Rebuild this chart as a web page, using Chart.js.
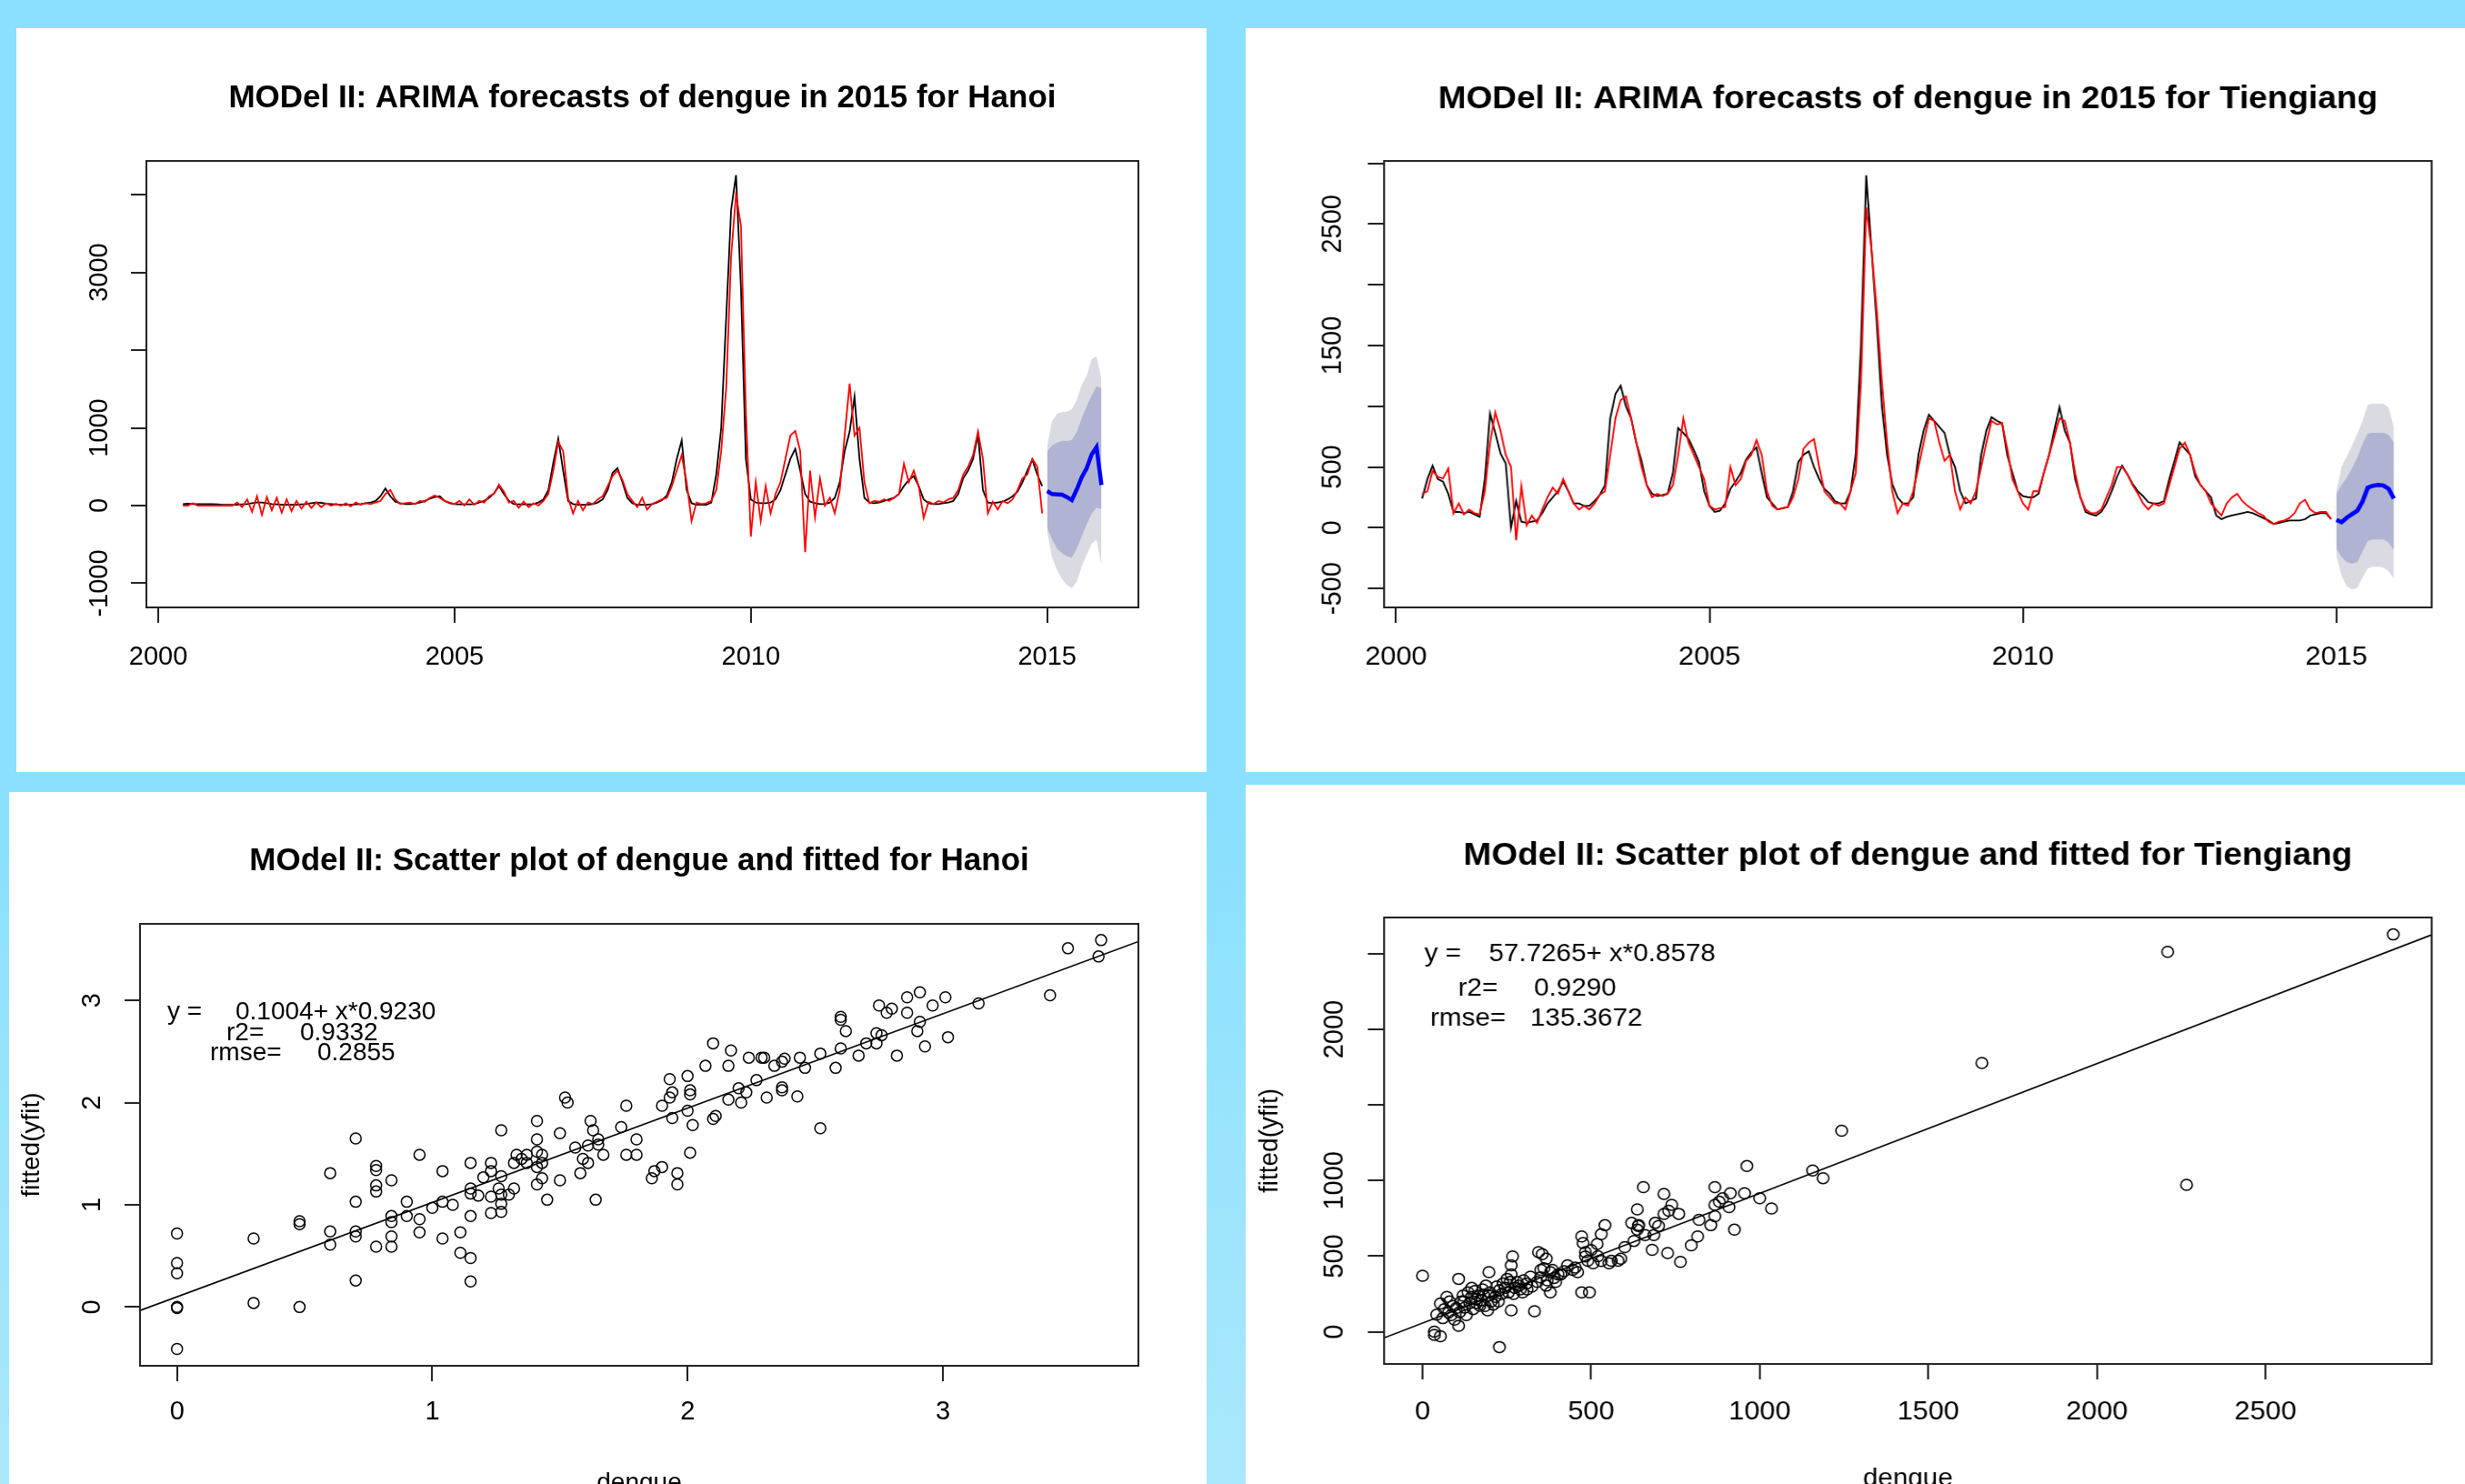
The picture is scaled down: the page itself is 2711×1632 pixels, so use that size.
<!DOCTYPE html>
<html>
<head>
<meta charset="utf-8">
<title>MOdel II: dengue forecasts</title>
<script src="https://cdn.jsdelivr.net/npm/chart.js@4.4.1/dist/chart.umd.min.js"></script>
<style>
  html, body { margin: 0; padding: 0; overflow: hidden; }
  body {
    width: 2711px; height: 1632px; position: relative;
    background: linear-gradient(to bottom, #8ae0fe 0%, #8ae0fe 55%, #aae8fc 100%);
  }
  .panel { position: absolute; background: #fff; overflow: hidden; }
  .panel canvas { display: block; transform-origin: 0 0; }
</style>
</head>
<body>
<div class="panel" style="left:18px;top:31px;width:1309px;height:818px"><canvas id="hanoiTs"></canvas></div>
<div class="panel" style="left:1370px;top:31px;width:1341px;height:818px"><canvas id="tienTs"></canvas></div>
<div class="panel" style="left:10px;top:871px;width:1317px;height:761px"><canvas id="hanoiScatter"></canvas></div>
<div class="panel" style="left:1370px;top:863px;width:1341px;height:769px"><canvas id="tienScatter"></canvas></div>
<script>
const FONT = '"Liberation Sans", Arial, sans-serif';

// monthly series start in June 2000, forecasts cover 2015
const seriesStart = 2000 + 5 / 12;
const forecastStart = 2015;

// ---- Hanoi, observed dengue (black) and fitted (red) ----
const hanoiObserved = [
  20, 25, 20, 20, 20, 20, 20,                                   // 2000 Jun-Dec
  15, 10, 10, 10, 10, 15, 20, 30, 40, 40, 30, 20,               // 2001
  15, 10, 10, 10, 10, 15, 20, 30, 40, 35, 25, 20,               // 2002
  15, 10, 10, 10, 15, 20, 30, 40, 60, 120, 220, 120,            // 2003
  50, 30, 20, 20, 25, 40, 60, 90, 110, 120, 60, 30,             // 2004
  20, 15, 15, 15, 20, 40, 60, 100, 160, 250, 150, 60,           // 2005
  20, 15, 15, 15, 20, 40, 80, 200, 550, 860, 450, 60,           // 2006
  20, 10, 10, 10, 20, 40, 80, 200, 420, 480, 300, 100,          // 2007
  30, 10, 10, 10, 20, 40, 70, 130, 300, 600, 840, 200,          // 2008
  30, 10, 10, 10, 40, 400, 1000, 2400, 3800, 4250, 2800, 600,   // 2009
  80, 40, 30, 30, 40, 80, 200, 400, 600, 730, 450, 150,         // 2010
  50, 30, 20, 20, 40, 100, 300, 700, 950, 1400, 600, 100,       // 2011
  40, 30, 40, 60, 80, 100, 150, 250, 330, 380, 250, 80,         // 2012
  30, 20, 20, 30, 40, 60, 150, 350, 450, 600, 910, 200,         // 2013
  40, 30, 40, 50, 80, 120, 180, 300, 450, 590, 400, 250         // 2014
];
const hanoiFitted = [
  0, 0, 30, 0, 0, 0, 0,
  0, 0, 0, 0, 40, -20, 80, -80, 120, -120, 110, -60,
  100, -90, 80, -70, 60, -40, 50, -30, 40, -20, 30, 0,
  20, 0, 30, -10, 40, 10, 30, 20, 40, 60, 150, 200,
  80, 20, 30, 40, 20, 60, 50, 100, 130, 100, 60, 40,
  20, 60, 0, 80, 10, 60, 40, 120, 150, 270, 180, 40,
  60, -30, 50, -20, 30, 0, 60, 150, 450, 820, 700, 100,
  -100, 60, -60, 40, 20, 80, 120, 250, 380, 450, 330, 150,
  60, -20, 100, -50, 20, 50, 80, 100, 250, 450, 650, 300,
  -200, 40, 20, 30, 60, 200, 700, 1500, 3200, 4000, 3600, 1200,
  -400, 300, -200, 250, -100, 150, 300, 600, 900, 960, 700, -600,
  450, -150, 350, 0, 100, -100, 200, 900, 1570, 900, 1000, 300,
  30, 60, 50, 80, 60, 100, 150, 538, 300, 450, 250, -160,
  50, 20, 60, 40, 80, 100, 200, 400, 500, 650, 950, 600,
  -100, 50, -50, 60, 30, 80, 200, 350, 400, 600, 500, -100
];
// Hanoi 2015 forecast, Jan-Dec
const hanoiForecast = [187, 148, 144, 140, 109, 70, 207, 363, 480, 655, 752, 265];
const hanoiHi95 = [760, 1084, 1180, 1201, 1209, 1240, 1357, 1552, 1669, 1883, 1922, 1629];
const hanoiHi80 = [694, 772, 811, 830, 830, 842, 947, 1123, 1279, 1415, 1532, 1513];
const hanoiLo80 = [-281, -437, -554, -612, -651, -670, -554, -398, -242, -105, -27, -47];
const hanoiLo95 = [-330, -670, -827, -944, -1021, -1061, -982, -787, -632, -495, -437, -768];

// ---- Tiengiang, observed dengue (black) and fitted (red) ----
const tienObserved = [
  240, 400, 510, 400, 380, 280, 130,
  130, 120, 130, 110, 90, 400, 940, 780, 611, 529, 0, 220,
  50, 40, 50, 60, 120, 200, 250, 300, 380, 300, 200, 200,
  180, 180, 220, 270, 350, 900, 1100, 1170, 1000, 900, 700, 550,
  350, 280, 260, 270, 280, 450, 820, 780, 730, 640, 540, 300,
  180, 130, 140, 200, 320, 380, 450, 560, 620, 660, 450, 250,
  200, 150, 160, 170, 300, 540, 600, 630, 500, 400, 320, 280,
  220, 200, 200, 300, 600, 1500, 2900, 2300, 1700, 1000, 600, 360,
  250, 200, 200, 250, 600, 800, 930, 880, 830, 780, 600, 500,
  300, 200, 220, 240, 600, 800, 910, 880, 860, 600, 450, 300,
  260, 250, 250, 280, 450, 600, 800, 992, 800, 700, 400, 250,
  130, 110, 100, 130, 200, 300, 420, 510, 440, 360, 300, 260,
  210, 200, 200, 220, 400, 550, 702, 650, 600, 420, 350, 300,
  250, 100, 70, 90, 100, 110, 120, 130, 120, 100, 80, 60,
  30, 40, 50, 60, 60, 60, 70, 100, 110, 120, 120, 70
];
const tienFitted = [
  280, 300, 467, 420, 405, 488, 116,
  200, 110, 150, 120, 110, 300, 700, 950, 800, 600, 500, -103,
  343, 20, 100, 40, 150, 250, 330, 280, 400, 300, 200, 150,
  180, 150, 200, 270, 300, 600, 900, 1050, 1080, 900, 700, 500,
  350, 250, 280, 260, 280, 350, 600, 900, 700, 600, 500, 400,
  180, 150, 160, 170, 500, 350, 400, 550, 600, 720, 600, 300,
  180, 150, 160, 170, 250, 400, 650, 700, 730, 500, 300, 250,
  200, 200, 150, 300, 450, 1200, 2636, 2300, 1800, 1200, 700, 300,
  120, 200, 180, 300, 500, 700, 900, 880, 700, 550, 600, 300,
  150, 250, 200, 300, 500, 700, 880, 850, 860, 650, 400, 300,
  200, 150, 300, 300, 450, 600, 750, 900, 880, 700, 450, 250,
  150, 120, 120, 150, 250, 350, 500, 500, 440, 350, 280, 200,
  150, 200, 180, 200, 350, 500, 650, 700, 600, 450, 350, 300,
  200, 150, 100, 200, 250, 280, 220, 180, 150, 120, 100, 50,
  30, 50, 60, 80, 120, 200, 230, 150, 120, 130, 130, 70
];
const tienForecast = [65, 45, 83, 112, 140, 215, 330, 345, 352, 348, 320, 240];
const tienHi95 = [302, 502, 589, 677, 776, 876, 1013, 1020, 1020, 1020, 988, 826];
const tienHi80 = [278, 352, 415, 490, 577, 689, 776, 781, 781, 781, 764, 701];
const tienLo80 = [-171, -241, -284, -296, -284, -196, -109, -97, -97, -97, -122, -184];
const tienLo95 = [-234, -396, -483, -508, -496, -409, -334, -321, -321, -326, -359, -421];

// ---- scatter: observed dengue vs fitted ----
const hanoiDengue = [
  0, 0, 0, 0, 0, 0, 0.30, 0.30, 0.48, 0.48,
  0.48, 0.60, 0.60, 0.60, 0.70, 0.70, 0.70, 0.70, 0.70, 0.78,
  0.78, 0.78, 0.78, 0.78, 0.84, 0.84, 0.84, 0.84, 0.84, 0.90,
  0.90, 0.95, 0.95, 0.95, 1.00, 1.04, 1.04, 1.04, 1.08, 1.11,
  1.11, 1.15, 1.15, 1.15, 1.15, 1.15, 1.15, 1.18, 1.20, 1.23,
  1.23, 1.23, 1.23, 1.26, 1.27, 1.27, 1.27, 1.27, 1.27, 1.30,
  1.32, 1.32, 1.33, 1.35, 1.37, 1.37, 1.41, 1.41, 1.41, 1.41,
  1.41, 1.43, 1.43, 1.43, 1.45, 1.50, 1.50, 1.52, 1.53, 1.56,
  1.58, 1.59, 1.61, 1.62, 1.61, 1.63, 1.64, 1.65, 1.65, 1.67,
  1.74, 1.76, 1.76, 1.80, 1.80, 1.86, 1.87, 1.90, 1.90, 1.93,
  1.93, 1.94, 1.94, 1.96, 1.96, 2.00, 2.00, 2.01, 2.01, 2.02,
  2.01, 2.07, 2.10, 2.10, 2.11, 2.16, 2.16, 2.17, 2.20, 2.21,
  2.23, 2.24, 2.27, 2.29, 2.30, 2.31, 2.34, 2.37, 2.37, 2.37,
  2.38, 2.43, 2.44, 2.46, 2.52, 2.52, 2.58, 2.60, 2.60, 2.60,
  2.62, 2.67, 2.70, 2.74, 2.74, 2.75, 2.76, 2.78, 2.80, 2.82,
  2.86, 2.86, 2.90, 2.91, 2.93, 2.91, 2.96, 3.01, 3.02, 3.14,
  3.42, 3.49, 3.61, 3.62
];
const hanoiFittedScatter = [
  0.72, 0.43, 0.33, 0.00, -0.01, -0.41, 0.67, 0.04, 0.84, 0.81,
  0.00, 1.31, 0.74, 0.61, 1.65, 1.03, 0.74, 0.69, 0.26, 1.38,
  1.34, 1.19, 1.13, 0.59, 1.24, 0.89, 0.83, 0.69, 0.59, 1.03,
  0.89, 1.49, 0.86, 0.73, 0.97, 1.33, 1.03, 0.67, 1.00, 0.73,
  0.53, 0.48, 0.25, 1.41, 1.16, 1.11, 0.89, 1.09, 1.27, 1.41,
  1.33, 1.08, 0.92, 1.16, 1.73, 1.28, 1.10, 1.01, 0.93, 1.10,
  1.41, 1.16, 1.49, 1.45, 1.49, 1.41, 1.52, 1.37, 1.20, 1.82,
  1.64, 1.49, 1.41, 1.26, 1.05, 1.70, 1.24, 2.05, 2.00, 1.56,
  1.31, 1.45, 1.58, 1.82, 1.41, 1.73, 1.05, 1.64, 1.59, 1.49,
  1.76, 1.49, 1.97, 1.64, 1.49, 1.26, 1.33, 1.97, 1.37, 2.05,
  2.23, 2.10, 1.85, 1.31, 1.20, 1.92, 2.26, 2.12, 2.08, 1.78,
  1.51, 2.36, 2.58, 1.84, 1.87, 2.36, 2.03, 2.51, 2.14, 2.00,
  2.10, 2.44, 2.22, 2.44, 2.44, 2.05, 2.36, 2.40, 2.15, 2.12,
  2.43, 2.06, 2.44, 2.34, 1.75, 2.48, 2.34, 2.53, 2.84, 2.81,
  2.70, 2.46, 2.58, 2.68, 2.58, 2.95, 2.66, 2.88, 2.92, 2.46,
  3.03, 2.88, 2.70, 2.79, 2.55, 3.08, 2.95, 3.03, 2.64, 2.97,
  3.05, 3.51, 3.43, 3.59
];
const tienDengue = [
  0, 228, 107, 35, 35, 53, 42, 53, 72, 77,
  100, 107, 123, 135, 146, 158, 170, 181, 193, 188,
  204, 216, 228, 239, 251, 263, 197, 263, 267, 274,
  286, 297, 332, 263, 309, 320, 344, 355, 367, 351,
  379, 390, 402, 379, 367, 460, 472, 495, 472, 476,
  483, 483, 518, 530, 541, 506, 530, 553, 588, 453,
  637, 641, 655, 627, 637, 681, 686, 727, 765, 716,
  716, 739, 797, 816, 855, 867, 867, 890, 867, 925,
  909, 913, 955, 962, 1000, 1035, 1157, 1188, 1243, 1659,
  2210, 2266, 2879,
  60, 65, 80, 85, 90, 95, 110, 115, 120, 125,
  130, 140, 145, 150, 155, 160, 165, 175, 178, 185,
  195, 200, 210, 220, 225, 235, 245, 255, 260, 270,
  280, 290, 300, 310, 325, 340, 350, 360, 370, 385,
  395, 410, 420, 430, 445, 490, 500, 520, 560, 580,
  600, 620, 640, 660, 690, 700, 730, 760, 820, 880
];
const tienFittedScatter = [
  370, -101, 350, 0, -21, -30, 113, 187, 231, 127,
  157, 39, 201, 261, 290, 216, 172, 246, 142, 305,
  201, 231, 276, 320, 350, 379, 394, 439, 498, 290,
  305, 261, 136, 142, 320, 364, 527, 513, 483, 409,
  394, 356, 379, 261, 305, 394, 261, 261, 631, 587,
  527, 498, 581, 646, 705, 453, 468, 453, 483, 424,
  809, 705, 957, 601, 675, 542, 640, 521, 462, 912,
  779, 839, 572, 631, 705, 839, 764, 883, 957, 675,
  824, 916, 916, 1096, 883, 815, 1067, 1016, 1330, 1778,
  2513, 972, 2628,
  90, 150, 200, 110, 170, 80, 130, 200, 240, 160,
  110, 190, 230, 150, 270, 190, 240, 210, 280, 170,
  240, 260, 180, 300, 200, 250, 290, 260, 330, 250,
  330, 280, 340, 280, 300, 330, 360, 420, 340, 410,
  330, 380, 400, 440, 410, 470, 540, 500, 470, 470,
  560, 720, 700, 640, 720, 700, 800, 780, 740, 860
];

// regression text shown on the scatter plots
const hanoiFit = { a: 0.1004, b: 0.9230 };
const hanoiFitNames = ['y =', 'r2=', 'rmse='];
const hanoiFitValues = ['0.1004+ x*0.9230', '0.9332', '0.2855'];
const tienFit = { a: 57.7265, b: 0.8578 };
const tienFitNames = ['y =', 'r2=', 'rmse='];
const tienFitValues = ['57.7265+ x*0.8578', '0.9290', '135.3672'];

// axis ticks and labels (R hides labels that would overlap)
const yearTicks = [2000, 2005, 2010, 2015];
const yearLabels = ['2000', '2005', '2010', '2015'];
const hanoiTsYTicks = [-1000, 0, 1000, 2000, 3000, 4000];
const hanoiTsYLabels = ['-1000', '0', '1000', '', '3000', ''];
const tienTsYTicks = [-500, 0, 500, 1000, 1500, 2000, 2500, 3000];
const tienTsYLabels = ['-500', '0', '500', '', '1500', '', '2500', ''];
const hanoiScXTicks = [0, 1, 2, 3];
const hanoiScXLabels = ['0', '1', '2', '3'];
const hanoiScYTicks = [0, 1, 2, 3];
const hanoiScYLabels = ['0', '1', '2', '3'];
const tienScXTicks = [0, 500, 1000, 1500, 2000, 2500];
const tienScXLabels = ['0', '500', '1000', '1500', '2000', '2500'];
const tienScYTicks = [0, 500, 1000, 1500, 2000, 2500];
const tienScYLabels = ['0', '500', '1000', '', '2000', ''];

const LIGHT_BAND = '#dadae2';
const DARK_BAND = '#b0b4d2';

function monthly(start, values) {
  return values.map((v, i) => ({ x: start + i / 12, y: v }));
}
function pairs(xs, ys) {
  return xs.map((x, i) => ({ x: x, y: ys[i] }));
}

// box around plot, centred bold title and regression notes
const rDecor = {
  id: 'rDecor',
  afterDraw(chart, args, opts) {
    const { ctx, chartArea: a } = chart;
    ctx.save();
    ctx.strokeStyle = '#222';
    ctx.lineWidth = 2;
    ctx.strokeRect(a.left, a.top, a.right - a.left, a.bottom - a.top);
    ctx.fillStyle = '#000';
    ctx.textBaseline = 'alphabetic';
    ctx.font = 'bold 35px ' + FONT;
    ctx.textAlign = 'center';
    ctx.fillText(opts.title, (a.left + a.right) / 2, opts.titleY);
    if (opts.notes) {
      ctx.font = '28px ' + FONT;
      ctx.textAlign = 'left';
      opts.notes.names.forEach((name, i) => {
        ctx.fillText(name, opts.notes.nameX[i], opts.notes.y[i]);
        ctx.fillText(opts.notes.values[i], opts.notes.valueX[i], opts.notes.y[i]);
      });
    }
    ctx.restore();
  }
};

function gridStyle() {
  return { drawOnChartArea: false, drawTicks: true, tickLength: 17, color: '#222', lineWidth: 2 };
}

// the right-hand panels of the source are stretched horizontally, so those
// canvases are drawn narrower and widened with sx
function makeChart(id, g, xa, ya, datasets, deco) {
  const canvas = document.getElementById(id);
  canvas.width = g.w;
  canvas.height = g.h;
  canvas.style.width = g.w + 'px';
  canvas.style.height = g.h + 'px';
  if (g.sx) canvas.style.transform = 'scaleX(' + g.sx + ')';
  return new Chart(canvas, {
    type: 'line',
    data: { datasets: datasets },
    options: {
      responsive: false,
      animation: false,
      devicePixelRatio: 1,
      layout: { padding: { left: 0, top: g.top, right: g.w - g.right, bottom: 0 } },
      elements: { point: { radius: 0 }, line: { tension: 0 } },
      plugins: { legend: { display: false }, tooltip: { enabled: false }, rDecor: deco },
      scales: {
        x: {
          type: 'linear', position: 'bottom', min: xa.min, max: xa.max,
          afterBuildTicks: s => { s.ticks = xa.ticks.map(v => ({ value: v })); },
          afterFit: s => { s.height = g.h - g.bottom; },
          ticks: { autoSkip: false, maxRotation: 0, minRotation: 0, padding: xa.pad,
                   font: { size: 29 }, color: '#000', callback: (v, i) => xa.labels[i] },
          grid: gridStyle(),
          border: { display: false },
          title: xa.title
            ? { display: true, text: xa.title, color: '#000', font: { size: 28 }, padding: { top: 0, bottom: xa.titlePad } }
            : { display: false }
        },
        y: {
          type: 'linear', position: 'left', min: ya.min, max: ya.max,
          afterBuildTicks: s => { s.ticks = ya.ticks.map(v => ({ value: v })); },
          afterFit: s => { s.width = g.left; },
          ticks: { autoSkip: false, minRotation: 90, maxRotation: 90, crossAlign: 'center', padding: ya.pad,
                   font: { size: 29 }, color: '#000', callback: (v, i) => ya.labels[i] },
          grid: gridStyle(),
          border: { display: false },
          title: ya.title
            ? { display: true, text: ya.title, color: '#000', font: { size: 28 }, padding: { top: ya.titlePad, bottom: 0 } }
            : { display: false }
        }
      }
    },
    plugins: [rDecor]
  });
}

function forecastSets(observed, fitted, mean, hi80, lo80, hi95, lo95) {
  const band = (vals, fill, color) => ({
    data: monthly(forecastStart, vals), borderColor: 'rgba(0,0,0,0)', borderWidth: 0,
    pointRadius: 0, fill: fill, backgroundColor: color
  });
  return [
    { data: monthly(forecastStart, mean), borderColor: '#0000ff', borderWidth: 4.5, fill: false },
    { data: monthly(seriesStart, fitted), borderColor: '#ff0000', borderWidth: 1.8, fill: false },
    { data: monthly(seriesStart, observed), borderColor: '#000000', borderWidth: 1.8, fill: false },
    band(hi80, '+1', DARK_BAND),
    band(lo80, false, DARK_BAND),
    band(hi95, '+1', LIGHT_BAND),
    band(lo95, false, LIGHT_BAND)
  ];
}

function scatterSets(xs, ys, fit, xMin, xMax) {
  return [
    { data: [{ x: xMin, y: fit.a + fit.b * xMin }, { x: xMax, y: fit.a + fit.b * xMax }],
      borderColor: '#000', borderWidth: 1.6, pointRadius: 0, fill: false },
    { data: pairs(xs, ys), showLine: false, pointRadius: 6, pointBorderWidth: 1.5,
      pointBorderColor: '#000', pointBackgroundColor: 'rgba(0,0,0,0)', borderColor: '#000' }
  ];
}

const RIGHT_SX = 1.057;

// Hanoi forecast
makeChart('hanoiTs',
  { w: 1309, h: 818, left: 143, top: 146, right: 1234, bottom: 637 },
  { min: 1999.80, max: 2016.54, ticks: yearTicks, labels: yearLabels, pad: 21 },
  { min: -1310, max: 4433, ticks: hanoiTsYTicks, labels: hanoiTsYLabels, pad: -3 },
  forecastSets(hanoiObserved, hanoiFitted, hanoiForecast, hanoiHi80, hanoiLo80, hanoiHi95, hanoiLo95),
  { title: 'MODel II: ARIMA forecasts of dengue in 2015 for Hanoi', titleY: 87 });

// Tiengiang forecast
makeChart('tienTs',
  { w: 1269, h: 818, left: 144, top: 146, right: 1234, bottom: 637, sx: RIGHT_SX },
  { min: 1999.81, max: 2016.52, ticks: yearTicks, labels: yearLabels, pad: 21 },
  { min: -656, max: 3019, ticks: tienTsYTicks, labels: tienTsYLabels, pad: 4 },
  forecastSets(tienObserved, tienFitted, tienForecast, tienHi80, tienLo80, tienHi95, tienLo95),
  { title: 'MODel II: ARIMA forecasts of dengue in 2015 for Tiengiang', titleY: 88 });

// Hanoi scatter
makeChart('hanoiScatter',
  { w: 1317, h: 820, left: 144, top: 145, right: 1242, bottom: 631 },
  { min: -0.145, max: 3.766, ticks: hanoiScXTicks, labels: hanoiScXLabels, pad: 17, title: 'dengue', titlePad: 43 },
  { min: -0.575, max: 3.749, ticks: hanoiScYTicks, labels: hanoiScYLabels, pad: 27, title: 'fitted(yfit)', titlePad: 8 },
  scatterSets(hanoiDengue, hanoiFittedScatter, hanoiFit, -0.145, 3.766),
  { title: 'MOdel II: Scatter plot of dengue and fitted for Hanoi', titleY: 86,
    notes: { names: hanoiFitNames, values: hanoiFitValues,
             nameX: [174, 239, 221], valueX: [249, 320, 339], y: [250, 273, 295] } });

// Tiengiang scatter
makeChart('tienScatter',
  { w: 1269, h: 820, left: 144, top: 146, right: 1234, bottom: 637, sx: RIGHT_SX },
  { min: -114, max: 2993, ticks: tienScXTicks, labels: tienScXLabels, pad: 19, title: 'dengue', titlePad: 40 },
  { min: -213, max: 2740, ticks: tienScYTicks, labels: tienScYLabels, pad: 2, title: 'fitted(yfit)', titlePad: 8 },
  scatterSets(tienDengue, tienFittedScatter, tienFit, -114, 2993),
  { title: 'MOdel II: Scatter plot of dengue and fitted for Tiengiang', titleY: 88,
    notes: { names: tienFitNames, values: tienFitValues,
             nameX: [186, 221, 192], valueX: [253, 300, 296], y: [194, 232, 265] } });
</script>
</body>
</html>
